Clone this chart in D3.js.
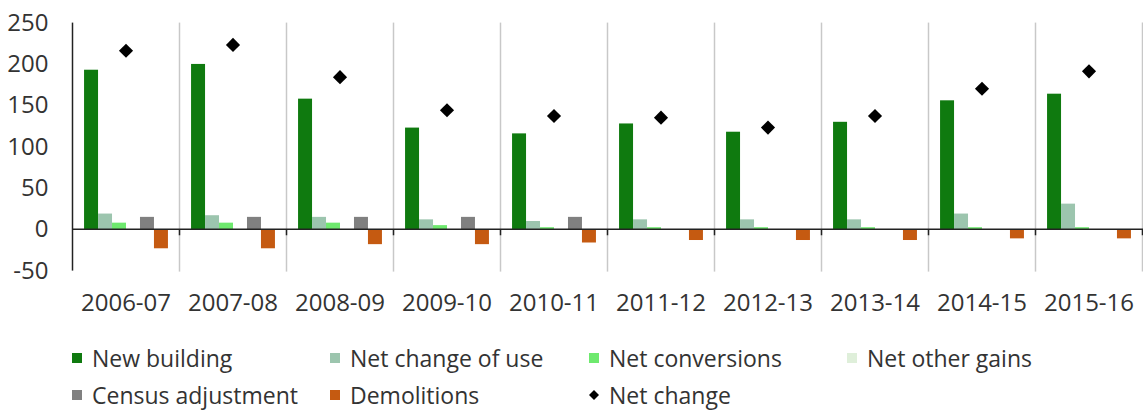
<!DOCTYPE html>
<html>
<head>
<meta charset="utf-8">
<script src="https://cdn.jsdelivr.net/npm/d3@7"></script>
<style>
  body { margin: 0; background: #fff; }
  svg text { font-family: "Open Sans", sans-serif; fill: #333; }
</style>
</head>
<body>
<div id="chart"></div>
<script>
const years = ['2006-07', '2007-08', '2008-09', '2009-10', '2010-11', '2011-12', '2012-13', '2013-14', '2014-15', '2015-16'];
const keys = ['New building', 'Net change of use', 'Net conversions', 'Net other gains', 'Census adjustment', 'Demolitions'];

const newBuilding = [193, 200, 158, 123, 116, 128, 118, 130, 156, 164];
const netChangeOfUse = [19, 17, 15, 12, 10, 12, 12, 12, 19, 31];
const netConversions = [8, 8, 8, 5, 2.5, 2.5, 2.5, 2.5, 2.5, 2.5];
const netOtherGains = [0, 0, 0, 0, 0, 0, 0, 0, 0, 0];
const censusAdjustment = [15, 15, 15, 15, 15, 0, 0, 0, 0, 0];
const demolitions = [-23, -23, -18, -18, -16, -13, -13, -13, -11, -11];
const netChange = [216, 223, 184, 144, 137, 135, 123, 137, 170, 191];
const yTicks = [-50, 0, 50, 100, 150, 200, 250];

const seriesValues = [newBuilding, netChangeOfUse, netConversions, netOtherGains, censusAdjustment, demolitions];
const colors = ['#0f7a0f', '#9cc5ae', '#6ee96e', '#dfefda', '#808080', '#c55a11'];

const data = years.map((yr, i) => {
  const row = { year: yr, net: netChange[i] };
  keys.forEach((k, j) => { row[k] = seriesValues[j][i]; });
  return row;
});

const width = 1143, height = 412;
const left = 72.5, right = 1142.5;

const svg = d3.select('#chart').append('svg')
  .attr('width', width)
  .attr('height', height);

const x0 = d3.scaleBand().domain(years).range([left, right])
  .paddingInner(0.216).paddingOuter(0.108);
const x1 = d3.scaleBand().domain(keys).range([0, x0.bandwidth()]);
const y = d3.scaleLinear().domain([-50, 250]).range([270.6, 22.6]);
const color = d3.scaleOrdinal().domain(keys).range(colors);

// vertical separators between categories
const bounds = years.map((d) => x0(d) - x0.step() * 0.108).concat([right]);
svg.append('g')
  .selectAll('line')
  .data(bounds.slice(1))
  .join('line')
  .attr('x1', (d) => d).attr('x2', (d) => d)
  .attr('y1', y(250)).attr('y2', y(-50) + 1)
  .attr('stroke', '#c8c8c8')
  .attr('stroke-width', 1.5);

// y axis labels
const yAxis = svg.append('g')
  .attr('transform', 'translate(' + left + ',0)')
  .call(d3.axisLeft(y).tickValues(yTicks).tickSize(0).tickPadding(24)
    .tickFormat((d) => String(d)));
yAxis.select('.domain').remove();
yAxis.selectAll('text')
  .style('font-size', '24px')
  .attr('fill', '#333');

// bars
svg.append('g')
  .selectAll('g')
  .data(data)
  .join('g')
  .attr('transform', (d) => 'translate(' + x0(d.year) + ',0)')
  .selectAll('rect')
  .data((d) => keys.map((k) => ({ key: k, value: d[k] })))
  .join('rect')
  .attr('x', (d) => x1(d.key))
  .attr('width', x1.bandwidth())
  .attr('y', (d) => y(Math.max(0, d.value)))
  .attr('height', (d) => Math.abs(y(d.value) - y(0)))
  .attr('fill', (d) => color(d.key));

// axis lines
svg.append('line')
  .attr('x1', left).attr('x2', left)
  .attr('y1', y(250)).attr('y2', y(-50))
  .attr('stroke', '#222').attr('stroke-width', 1.5);
svg.append('line')
  .attr('x1', left).attr('x2', right + 1)
  .attr('y1', y(0)).attr('y2', y(0))
  .attr('stroke', '#222').attr('stroke-width', 1.5);
svg.append('g')
  .selectAll('line')
  .data(bounds.slice(1))
  .join('line')
  .attr('x1', (d) => d).attr('x2', (d) => d)
  .attr('y1', y(0)).attr('y2', y(0) + 6)
  .attr('stroke', '#222').attr('stroke-width', 1.5);

// x labels
svg.append('g')
  .selectAll('text')
  .data(years)
  .join('text')
  .attr('x', (d) => x0(d) + x0.bandwidth() / 2)
  .attr('y', 311)
  .attr('text-anchor', 'middle')
  .style('font-size', '24px')
  .text((d) => d);

// net change markers
const diamond = d3.symbol().type(d3.symbolSquare).size(100);
svg.append('g')
  .selectAll('path')
  .data(data)
  .join('path')
  .attr('d', diamond)
  .attr('transform', (d) => 'translate(' + (x0(d.year) + x0.bandwidth() / 2) + ',' + y(d.net) + ') rotate(45)')
  .attr('fill', '#000');

// legend
const legendItems = [
  { name: 'New building', x: 72, y: 358 },
  { name: 'Net change of use', x: 330, y: 358 },
  { name: 'Net conversions', x: 589, y: 358 },
  { name: 'Net other gains', x: 847, y: 358 },
  { name: 'Census adjustment', x: 72, y: 395 },
  { name: 'Demolitions', x: 330, y: 395 },
  { name: 'Net change', x: 589, y: 395, marker: true },
];
const legend = svg.append('g')
  .selectAll('g')
  .data(legendItems)
  .join('g')
  .attr('transform', (d) => 'translate(' + d.x + ',' + d.y + ')');
legend.filter((d) => !d.marker)
  .append('rect')
  .attr('x', 0).attr('y', -5)
  .attr('width', 10).attr('height', 10)
  .attr('fill', (d) => color(d.name));
legend.filter((d) => d.marker)
  .append('path')
  .attr('d', d3.symbol().type(d3.symbolSquare).size(50))
  .attr('transform', 'translate(5,0) rotate(45)')
  .attr('fill', '#000');
legend.append('text')
  .attr('x', 20)
  .attr('y', 8.5)
  .style('font-size', '23px')
  .text((d) => d.name);
</script>
</body>
</html>
